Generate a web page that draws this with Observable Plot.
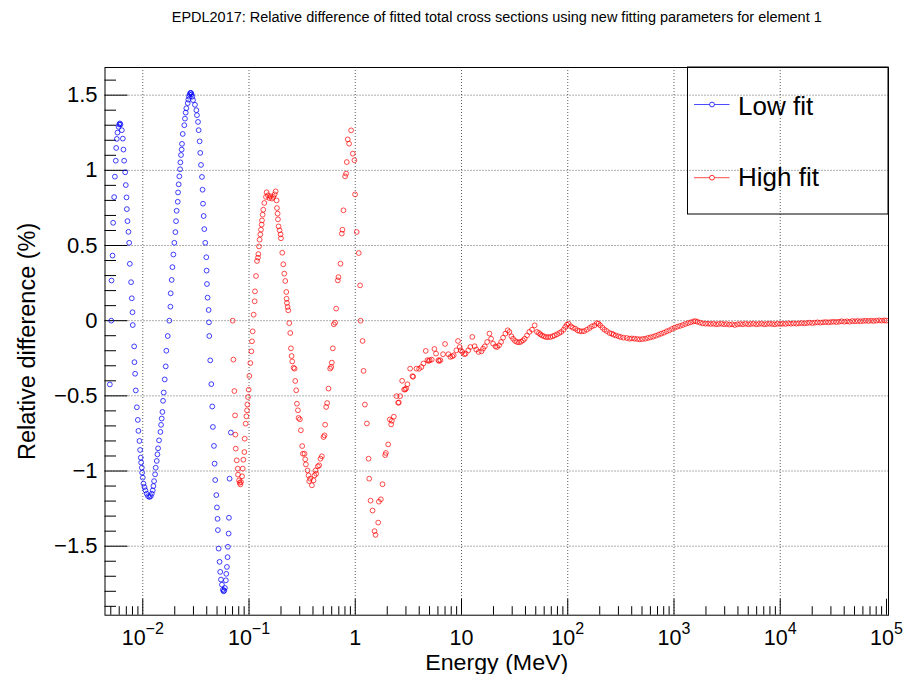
<!DOCTYPE html>
<html><head><meta charset="utf-8">
<script src="https://cdn.jsdelivr.net/npm/d3@7"></script>
<script src="https://cdn.jsdelivr.net/npm/@observablehq/plot@0.6"></script>
<style>body{margin:0;background:#fff}svg{display:block}</style>
</head><body><div id="chart"></div>
<script>
const title = "EPDL2017: Relative difference of fitted total cross sections using new fitting parameters for element 1";
const xLabel = "Energy (MeV)";
const yLabel = "Relative difference (%)";
const seriesNames = ["Low fit", "High fit"];

const lowFitEnergy = [0.00490,0.00505,0.00508,0.00519,0.00526,0.00538,0.00546,0.00557,0.00562,0.00570,0.00578,0.00592,0.00600,0.00608,0.00617,0.00635,0.00649,0.00658,0.00668,0.00683,0.00692,0.00703,0.00708,0.00718,0.00733,0.00745,0.00755,0.00776,0.00788,0.00800,0.00805,0.00830,0.00835,0.00847,0.00859,0.00879,0.00898,0.00910,0.00931,0.00944,0.00957,0.00965,0.00979,0.00986,0.01000,0.01015,0.01037,0.01059,0.01090,0.01122,0.01155,0.01189,0.01216,0.01241,0.01259,0.01277,0.01306,0.01324,0.01354,0.01374,0.01393,0.01423,0.01466,0.01486,0.01507,0.01531,0.01552,0.01574,0.01609,0.01644,0.01667,0.01718,0.01778,0.01820,0.01832,0.01871,0.01901,0.01941,0.01982,0.02028,0.02056,0.02084,0.02133,0.02148,0.02178,0.02208,0.02244,0.02259,0.02291,0.02323,0.02339,0.02377,0.02460,0.02495,0.02535,0.02570,0.02649,0.02685,0.02723,0.02761,0.02805,0.02844,0.02884,0.02924,0.02972,0.03097,0.03192,0.03236,0.03311,0.03357,0.03428,0.03475,0.03532,0.03606,0.03656,0.03690,0.03741,0.03793,0.03873,0.03963,0.03990,0.04018,0.04074,0.04169,0.04198,0.04227,0.04315,0.04416,0.04508,0.04571,0.04677,0.04742,0.04808,0.04920,0.04989,0.05058,0.05093,0.05176,0.05284,0.05358,0.05445,0.05559,0.05675,0.05768,0.05848,0.05929,0.06053,0.06109,0.06194,0.06281,0.06324,0.06427,0.06471,0.06561,0.06745];
const lowFitDiff = [-0.424,0,0.267,0.433,0.651,0.822,0.958,1.064,1.149,1.209,1.251,1.289,1.305,1.312,1.305,1.267,1.211,1.138,1.064,0.987,0.902,0.820,0.742,0.662,0.591,0.518,0.378,0.256,0.149,0.056,-0.029,-0.171,-0.276,-0.353,-0.464,-0.576,-0.660,-0.733,-0.800,-0.860,-0.911,-0.944,-0.978,-1.011,-1.044,-1.084,-1.107,-1.129,-1.151,-1.167,-1.173,-1.167,-1.151,-1.129,-1.100,-1.067,-1.022,-0.978,-0.933,-0.889,-0.849,-0.796,-0.740,-0.693,-0.651,-0.607,-0.533,-0.478,-0.391,-0.304,-0.200,-0.102,0.000,0.093,0.182,0.271,0.356,0.440,0.518,0.589,0.662,0.731,0.791,0.853,0.907,0.960,1.007,1.053,1.102,1.138,1.176,1.242,1.300,1.344,1.384,1.413,1.447,1.470,1.490,1.505,1.515,1.515,1.505,1.490,1.467,1.436,1.400,1.367,1.322,1.267,1.193,1.116,1.036,0.956,0.871,0.778,0.696,0.609,0.518,0.422,0.333,0.244,0.153,0.071,-0.011,-0.102,-0.264,-0.422,-0.571,-0.707,-0.833,-0.951,-1.060,-1.160,-1.242,-1.318,-1.393,-1.516,-1.604,-1.671,-1.722,-1.756,-1.790,-1.800,-1.795,-1.778,-1.727,-1.684,-1.638,-1.573,-1.504,-1.416,-1.311,-1.051,-0.744];

const highFitEnergy = [0.0702,0.0713,0.0728,0.0739,0.0744,0.0750,0.0766,0.0783,0.0788,0.0806,0.0817,0.0829,0.0841,0.0860,0.0872,0.0885,0.0904,0.0911,0.0930,0.0944,0.0958,0.0965,0.0979,0.0993,0.1007,0.1029,0.1052,0.1067,0.1082,0.1106,0.1130,0.1138,0.1163,0.1189,0.1215,0.1224,0.1241,0.1259,0.1278,0.1296,0.1315,0.1325,0.1344,0.1363,0.1393,0.1444,0.1465,0.1508,0.1552,0.1597,0.1644,0.1692,0.1742,0.1780,0.1819,0.1832,0.1859,0.1872,0.1899,0.1941,0.1983,0.1998,0.2056,0.2101,0.2147,0.2194,0.2242,0.2258,0.2275,0.2307,0.2341,0.2392,0.2444,0.2480,0.2516,0.2552,0.2627,0.2684,0.2723,0.2782,0.2823,0.2884,0.2926,0.3011,0.3077,0.3167,0.3214,0.3332,0.3381,0.3429,0.3556,0.3634,0.3687,0.3767,0.3905,0.4048,0.4136,0.4227,0.4288,0.4445,0.4575,0.4708,0.4846,0.5024,0.5134,0.5208,0.5322,0.5438,0.5598,0.5803,0.5930,0.6016,0.6148,0.6282,0.6466,0.6607,0.6850,0.6949,0.7255,0.7467,0.7576,0.7742,0.8026,0.8202,0.8322,0.8498,0.8750,0.9140,0.9474,0.9822,0.9964,1.0330,1.0787,1.1102,
1.122,1.172,1.197,1.232,1.287,1.334,1.354,1.393,1.455,1.519,1.552,1.644,1.668,1.742,1.806,1.913,1.941,2.041,2.116,2.178,2.210,2.307,2.444,2.534,2.570,2.645,2.762,2.884,2.948,3.011,3.100,3.284,3.454,3.504,3.767,3.990,4.196,4.381,4.608,4.777,4.916,5.024,5.247,5.558,5.762,6.060,6.148,6.328,6.704,7.000,7.521,7.854,8.202,8.442,8.945,9.271,9.612,9.822,10.18,10.63,10.94,11.59,12.10,12.64,13.29,13.78,14.50,
15.41,15.97,16.56,17.42,18.32,18.99,19.83,20.86,21.62,22.58,23.58,24.62,25.89,27.23,28.23,29.48,30.56,31.91,33.32,34.79,36.34,37.93,39.33,41.36,43.50,46.08,48.83,51.35,53.62,55.19,57.21,59.74,62.37,65.13,68.50,72.04,75.21,79.10,83.20,86.90,91.40,94.74,98.22,101.8,107.1,111.8,117.6,123.7,129.1,135.9,142.9,151.4,160.3,168.7,178.6,187.9,194.8,202.0,212.4,221.8,233.3,247.1,259.8,269.4,283.3,300.1,315.6,334.4,359.4,380.7,
401.7,425.4,450.9,477.7,506.1,536.5,568.4,602.1,638.3,676.3,716.6,759.4,804.8,852.7,903.6,957.4,1014.6,1075,1139,1207,1279,1356,1436,1522,1590,1660,1759,1864,1975,2093,2218,2350,2490,2638,2796,2963,3139,3327,3525,3735,3958,4195,4445,4710,4991,5289,5604,5939,6293,6669,7067,7488,7935,8408,8910,9437,10000,10596,11228,11898,12606,13359,14155,15000,15895,16842,17847,18910,20038,21232,22500,23840,25260,26770,28360,30060,31840,33750,35770,37900,40160,42550,45090,47770,50620,53640,56840,60240,63830,67630,71660,75940,80480,85270,90360,95740,100000];
const highFitDiff = [0,-0.259,-0.468,-0.630,-0.758,-0.851,-0.929,-0.984,-1.024,-1.062,-1.078,-1.089,-1.073,-1.035,-0.984,-0.925,-0.874,-0.785,-0.685,-0.636,-0.596,-0.557,-0.508,-0.459,-0.368,-0.282,-0.204,-0.137,-0.071,0.040,0.129,0.195,0.297,0.397,0.419,0.443,0.494,0.539,0.574,0.605,0.639,0.667,0.705,0.738,0.783,0.823,0.854,0.834,0.816,0.827,0.812,0.823,0.840,0.860,0.800,0.749,0.712,0.674,0.627,0.601,0.574,0.548,0.452,0.375,0.313,0.264,0.191,0.146,0.118,0.091,0.069,-0.016,-0.082,-0.184,-0.235,-0.271,-0.313,-0.319,-0.401,-0.463,-0.552,-0.596,-0.647,-0.656,-0.729,-0.834,-0.885,-0.885,-0.922,-0.956,-0.996,-1.029,-1.067,-1.051,-1.095,-1.062,-1.029,-0.996,-1.018,-0.969,-0.962,-0.918,-0.902,-0.774,-0.763,-0.692,-0.574,-0.548,-0.452,-0.319,-0.308,-0.279,-0.184,-0.024,-0.013,0.080,0.268,0.290,0.379,0.579,0.605,0.734,0.960,0.978,1.055,1.206,1.177,1.266,1.111,1.067,0.840,0.590,0.450,0.235,
0,-0.135,-0.334,-0.558,-0.684,-0.918,-1.051,-1.197,-1.263,-1.400,-1.425,-1.343,-1.204,-1.188,-1.088,-0.894,-0.880,-0.823,-0.657,-0.690,-0.666,-0.639,-0.502,-0.546,-0.544,-0.502,-0.400,-0.458,-0.458,-0.451,-0.423,-0.319,-0.369,-0.373,-0.319,-0.320,-0.308,-0.285,-0.201,-0.263,-0.268,-0.263,-0.259,-0.188,-0.219,-0.263,-0.268,-0.263,-0.223,-0.155,-0.223,-0.241,-0.237,-0.230,-0.197,-0.135,-0.175,-0.197,-0.208,-0.223,-0.219,-0.197,-0.175,-0.108,-0.170,-0.192,-0.208,
-0.204,-0.186,-0.171,-0.142,-0.086,-0.120,-0.153,-0.171,-0.175,-0.164,-0.142,-0.113,-0.086,-0.064,-0.075,-0.104,-0.120,-0.135,-0.142,-0.144,-0.140,-0.131,-0.120,-0.098,-0.075,-0.060,-0.031,-0.075,-0.082,-0.091,-0.098,-0.104,-0.109,-0.109,-0.109,-0.104,-0.098,-0.091,-0.082,-0.075,-0.060,-0.042,-0.027,-0.020,-0.038,-0.047,-0.053,-0.064,-0.069,-0.071,-0.069,-0.060,-0.049,-0.038,-0.031,-0.016,-0.020,-0.031,-0.047,-0.060,-0.069,-0.082,-0.086,-0.093,-0.098,-0.104,-0.109,-0.113,-0.115,-0.120,
-0.118,-0.120,-0.122,-0.124,-0.122,-0.120,-0.115,-0.111,-0.106,-0.100,-0.093,-0.086,-0.080,-0.071,-0.064,-0.055,-0.047,-0.040,-0.035,-0.029,-0.022,-0.016,-0.011,-0.005,-0.003,-0.007,-0.013,-0.018,-0.020,-0.020,-0.022,-0.020,-0.024,-0.022,-0.020,-0.024,-0.022,-0.026,-0.024,-0.029,-0.024,-0.022,-0.024,-0.020,-0.024,-0.022,-0.020,-0.024,-0.022,-0.020,-0.024,-0.022,-0.020,-0.022,-0.024,-0.020,-0.022,-0.020,-0.022,-0.018,-0.020,-0.018,-0.020,-0.018,-0.016,-0.018,-0.016,-0.013,-0.016,-0.013,-0.011,-0.013,-0.011,-0.009,-0.011,-0.009,-0.007,-0.009,-0.007,-0.004,-0.007,-0.004,-0.007,-0.002,-0.004,-0.002,-0.004,-0.002,0.000,-0.002,0.000,-0.002,0.000,0.002,0.000,0.002,0.000];

const xMajorTicks = [1e-2, 1e-1, 1, 10, 1e2, 1e3, 1e4, 1e5];
const xTickLabels = ["10^−2", "10^−1", "1", "10", "10^2", "10^3", "10^4", "10^5"];
const xMinorMultipliers = [2, 3, 4, 5, 6, 7, 8, 9];
const xMinorDecades = [1e-3, 1e-2, 1e-1, 1, 10, 1e2, 1e3, 1e4];
const yMajorTicks = [-1.5, -1, -0.5, 0, 0.5, 1, 1.5];
const yTickLabels = ["−1.5", "−1", "−0.5", "0", "0.5", "1", "1.5"];
const yMinorTicks = [-1.9,-1.8,-1.7,-1.6,-1.4,-1.3,-1.2,-1.1,-0.9,-0.8,-0.7,-0.6,-0.4,-0.3,-0.2,-0.1,0.1,0.2,0.3,0.4,0.6,0.7,0.8,0.9,1.1,1.2,1.3,1.4,1.6];

const W = 903, H = 674, mL = 104.5, mR = 15, mT = 67, mB = 59.3;
const fw = W - mL - mR, fh = H - mT - mB;
const xDomain = [0.00441, 1.045e5], yDomain = [-1.959, 1.684];
const xMinorTicks = xMinorDecades.flatMap(d => xMinorMultipliers.map(m => m * d)).filter(v => v > xDomain[0] && v < xDomain[1]);

const low = lowFitEnergy.map((e, i) => ({e, d: lowFitDiff[i]}));
const high = highFitEnergy.map((e, i) => ({e, d: highFitDiff[i]}));
const xLab = new Map(xMajorTicks.map((t, i) => [t, xTickLabels[i]]));
const yLab = new Map(yMajorTicks.map((t, i) => [t, yTickLabels[i]]));
const FONT = "'Liberation Sans', Arial, Helvetica, sans-serif";
const BLUE = "#0000ff", RED = "#ff0000";

const plot = Plot.plot({
  width: W, height: H, marginLeft: mL, marginRight: mR, marginTop: mT, marginBottom: mB,
  style: {fontFamily: FONT, background: "#fff", color: "#000"},
  x: {type: "log", domain: xDomain},
  y: {domain: yDomain},
  marks: [
    Plot.ruleX(xMajorTicks.slice(0, -1), {stroke: "#000", strokeWidth: 0.8, strokeDasharray: "1,2", strokeOpacity: 0.8}),
    Plot.ruleY(yMajorTicks, {stroke: "#000", strokeWidth: 0.8, strokeDasharray: "1,2", strokeOpacity: 0.8}),
    Plot.ruleX(xMajorTicks, {stroke: "#000", insetTop: fh - 16}),
    Plot.ruleX(xMinorTicks, {stroke: "#000", insetTop: fh - 8.5}),
    Plot.ruleY(yMajorTicks, {stroke: "#000", insetRight: fw - 23}),
    Plot.ruleY(yMinorTicks, {stroke: "#000", insetRight: fw - 11.5}),
    Plot.dot(low, {x: "e", y: "d", r: 2.4, stroke: BLUE, strokeOpacity: 0.75, strokeWidth: 1, fill: "none", clip: true}),
    Plot.dot(high, {x: "e", y: "d", r: 2.4, stroke: RED, strokeOpacity: 0.7, strokeWidth: 1, fill: "none", clip: true}),
    Plot.axisX(xMajorTicks, {tickSize: 0, tickPadding: 15, fontSize: 21.5, tickFormat: d => xLab.get(d), label: null}),
    Plot.axisY(yMajorTicks, {tickSize: 0, tickPadding: 7.5, fontSize: 22, tickFormat: d => yLab.get(d), label: null}),
    Plot.text([xLabel], {frameAnchor: "bottom", dy: 48, lineAnchor: "middle", textAnchor: "middle", fontSize: 22.5, text: d => d}),
    Plot.text([yLabel], {frameAnchor: "left", dx: -77.5, rotate: -90, lineAnchor: "middle", textAnchor: "middle", fontSize: 23.5, text: d => d}),
    Plot.text([title], {frameAnchor: "top", dy: -50, lineAnchor: "middle", textAnchor: "middle", fontSize: 14, text: d => d}),
    Plot.frame({stroke: "#000", strokeWidth: 1})
  ]
});

const svg = d3.select(plot);
// superscripts for log tick labels
svg.selectAll('g[aria-label="x-axis tick label"] text').each(function() {
  const s = this.textContent;
  if (s.includes("^")) {
    const [b, e] = s.split("^");
    const t = d3.select(this);
    t.text(null);
    t.append("tspan").text(b);
    t.append("tspan").attr("font-size", 16).attr("dy", -11).text(e);
  }
});
// stretch the title to the width it has in the original
svg.selectAll('g[aria-label="text"] text').filter(function() { return this.textContent === title; })
  .attr("textLength", 650).attr("lengthAdjust", "spacingAndGlyphs");
// stretch the x title slightly to the width it has in the original
svg.selectAll('g[aria-label="text"] text').filter(function() { return this.textContent === xLabel; })
  .attr("textLength", 143).attr("lengthAdjust", "spacingAndGlyphs");
// legend (transparent box inside the frame, as in the original)
const lg = svg.append("g").attr("font-family", FONT).attr("text-anchor", "start");
lg.append("rect").attr("x", 687.5).attr("y", 67).attr("width", 200.5).attr("height", 147)
  .attr("fill", "none").attr("stroke", "#000").attr("stroke-width", 1);
[[BLUE, 104.5, 115, seriesNames[0]], [RED, 177.7, 186, seriesNames[1]]].forEach(([c, ly, by, name]) => {
  lg.append("line").attr("x1", 694).attr("x2", 729.5).attr("y1", ly).attr("y2", ly)
    .attr("stroke", c).attr("stroke-opacity", 0.7);
  lg.append("circle").attr("cx", 712).attr("cy", ly).attr("r", 2.4)
    .attr("fill", "white").attr("stroke", c).attr("stroke-opacity", 0.8);
  lg.append("text").attr("x", 738).attr("y", by).attr("font-size", 26).attr("fill", "#000")
    .attr("text-anchor", "start").text(name);
});

document.getElementById("chart").appendChild(plot);
</script>
</body></html>
